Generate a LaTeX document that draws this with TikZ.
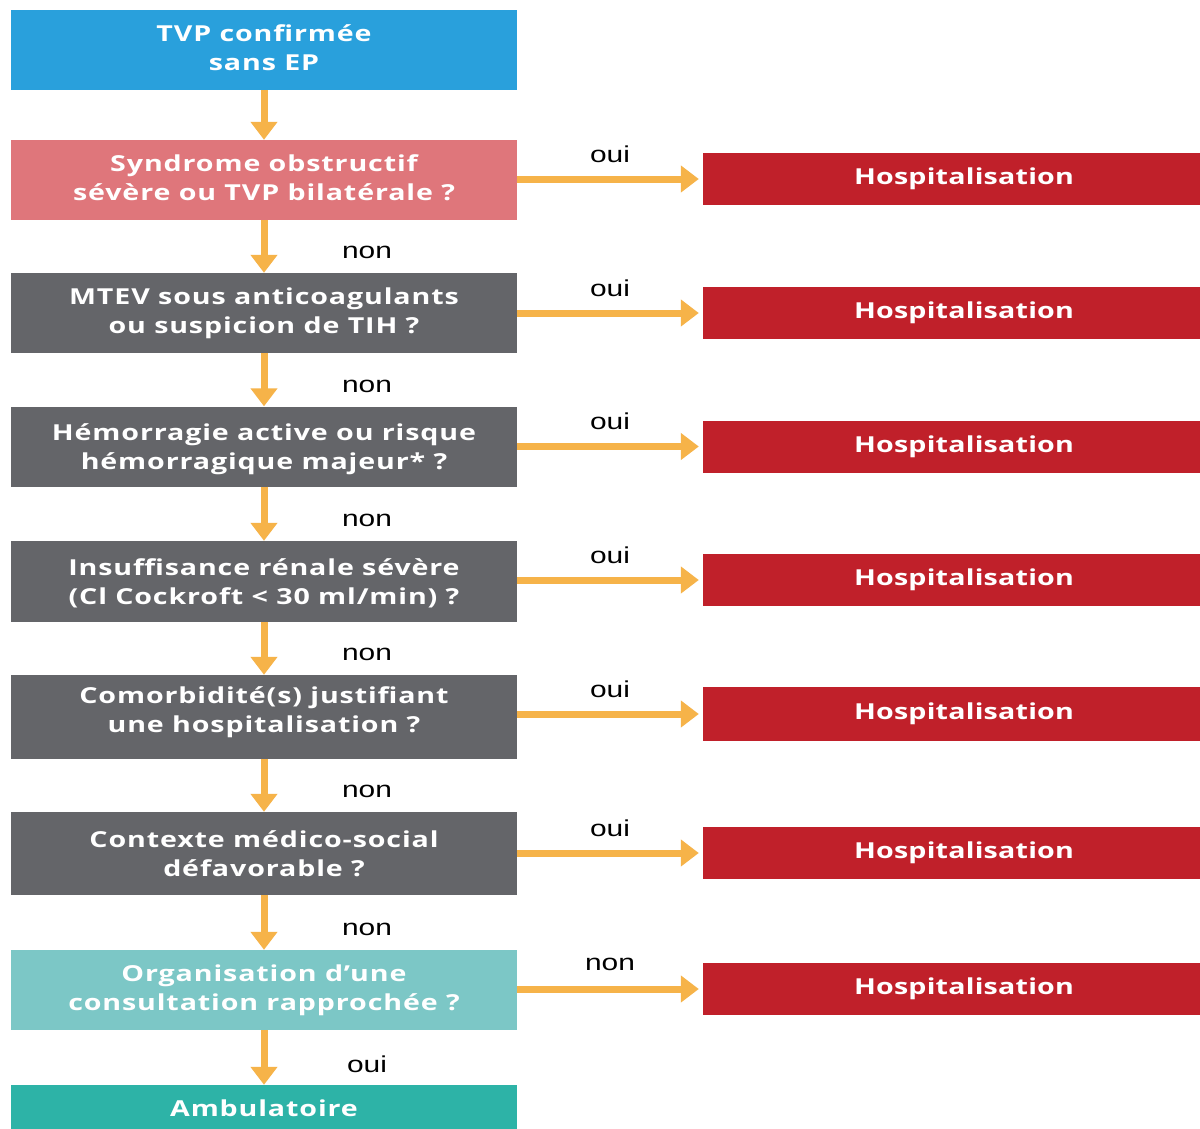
\documentclass[tikz,border=0pt]{standalone}
\usepackage{fontspec}
\usetikzlibrary{arrows.meta}
% wide, letter-spaced faces for the flowchart
\newfontfamily\boxfont[FakeStretch=1.3, LetterSpace=4]{Open Sans}
\newfontfamily\hospfont[FakeStretch=1.3, LetterSpace=1]{Open Sans}
\newfontfamily\lblfont[FakeStretch=1.3]{Liberation Sans}

\definecolor{startblue}{HTML}{29A0DC}
\definecolor{alertpink}{HTML}{DF767B}
\definecolor{qgrey}{HTML}{646569}
\definecolor{lightteal}{HTML}{7CC7C6}
\definecolor{darkteal}{HTML}{2DB3A7}
\definecolor{hospred}{HTML}{C0202A}
\definecolor{flow}{HTML}{F6B349}

\tikzset{
  qbox/.style={rectangle, minimum width=506pt, minimum height=80pt, inner sep=0pt,
    text depth=5.5pt,
    text=white, align=center, font=\boxfont\bfseries\fontsize{22}{29}\selectfont},
  hbox/.style={rectangle, fill=hospred, minimum width=522pt, minimum height=52pt, inner sep=0pt,
    text=white, font=\hospfont\bfseries\fontsize{22}{26}\selectfont},
  flowarrow/.style={draw=flow, line width=7pt, -{Triangle[width=26pt,length=18pt]}},
  answer/.style={text=black, font=\lblfont\fontsize{23}{26}\selectfont}
}

\begin{document}
\begin{tikzpicture}[x=1pt,y=-1pt]
\useasboundingbox (0,0) rectangle (1200,1128);
\clip (0,0) rectangle (1200,1128);
\fill[white] (0,0) rectangle (1200,1128);

% decision column
\node[qbox, fill=startblue] (q0) at (264,50) {TVP confirmée\\sans EP};
\node[qbox, fill=alertpink] (q1) at (264,180) {Syndrome obstructif\\sévère ou TVP bilatérale ?};
\node[qbox, fill=qgrey] (q2) at (264,313) {MTEV sous anticoagulants\\ou suspicion de TIH ?};
\node[qbox, fill=qgrey, text depth=0pt] (q3) at (264,446.5) {Hémorragie active ou risque\\hémorragique majeur* ?};
\node[qbox, fill=qgrey, minimum height=81pt, text depth=0pt] (q4) at (264,581.5) {Insuffisance rénale sévère\\(Cl Cockroft < 30 ml/min) ?};
\node[qbox, fill=qgrey, minimum height=84pt, text depth=14pt] (q5) at (264,717) {Comorbidité(s) justifiant\\une hospitalisation ?};
\node[qbox, fill=qgrey, minimum height=83pt, text depth=0pt] (q6) at (264,853.5) {Contexte médico-social\\défavorable ?};
\node[qbox, fill=lightteal] (q7) at (264,990) {Organisation d’une\\consultation rapprochée ?};
\node[qbox, fill=darkteal, minimum height=46pt, text depth=0pt] (amb) at (264,1108) {Ambulatoire};

% hospitalisation column
\node[hbox] (h1) at (964,179) {Hospitalisation};
\node[hbox] (h2) at (964,313) {Hospitalisation};
\node[hbox] (h3) at (964,446.5) {Hospitalisation};
\node[hbox] (h4) at (964,580) {Hospitalisation};
\node[hbox, minimum height=54pt] (h5) at (964,714) {Hospitalisation};
\node[hbox] (h6) at (964,853) {Hospitalisation};
\node[hbox] (h7) at (964,989) {Hospitalisation};

% downward flow
\draw[flowarrow] (q0.south) -- (q1.north);
\foreach \a/\b/\t in {q1/q2/non, q2/q3/non, q3/q4/non, q4/q5/non, q5/q6/non, q6/q7/non, q7/amb/oui}
  \draw[flowarrow] (\a.south) -- node[answer, pos=0.62, xshift=103pt] {\t} (\b.north);

% sideways flow
\foreach \a/\b/\t in {q1/h1/oui, q2/h2/oui, q3/h3/oui, q4/h4/oui, q5/h5/oui, q6/h6/oui, q7/h7/non}
  \draw[flowarrow, shorten >=4pt] (\a.east |- \b.west) -- node[answer, midway, yshift=25pt] {\t} (\b.west);
\end{tikzpicture}
\end{document}
